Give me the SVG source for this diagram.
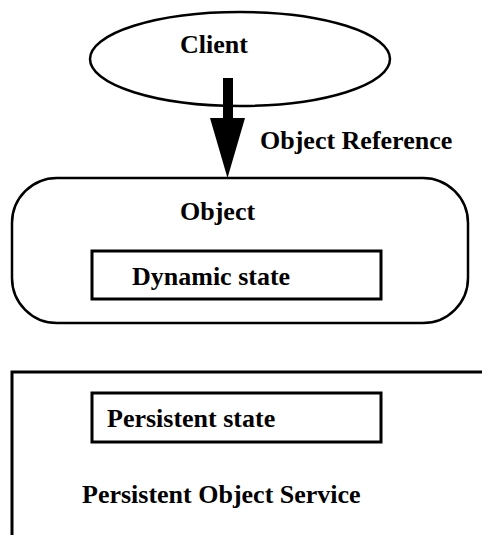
<svg xmlns="http://www.w3.org/2000/svg" width="482" height="535" viewBox="0 0 482 535">
<style>
.t{font-family:"Liberation Serif","Times New Roman",serif;font-weight:bold;font-size:26px;fill:#000}
.s{fill:none;stroke:#000;stroke-width:2.5}
.b{fill:none;stroke:#000;stroke-width:3}
</style>
<rect width="482" height="535" fill="#fff"/>
<g id="client">
<ellipse class="s" cx="240" cy="59" rx="150" ry="47"/>
<text class="t" x="180" y="53">Client</text>
</g>
<g id="object">
<rect class="s" x="12" y="178" width="456" height="145" rx="45" ry="45"/>
<text class="t" x="180" y="220">Object</text>
</g>
<g id="dynamic-state">
<rect class="b" x="92" y="251" width="289" height="48"/>
<text class="t" x="132" y="285">Dynamic state</text>
</g>
<g id="persistent-object-service">
<path class="b" d="M12,535 V372 H482"/>
<text class="t" x="82" y="503">Persistent Object Service</text>
</g>
<g id="persistent-state">
<rect class="b" x="92" y="393" width="289" height="49"/>
<text class="t" x="107" y="427">Persistent state</text>
</g>
<g id="connectors">
<rect x="223" y="78" width="10" height="41" fill="#000"/>
<polygon points="210,118 245,118 227.5,178" fill="#000"/>
<text class="t" x="260" y="149">Object Reference</text>
</g>
</svg>
